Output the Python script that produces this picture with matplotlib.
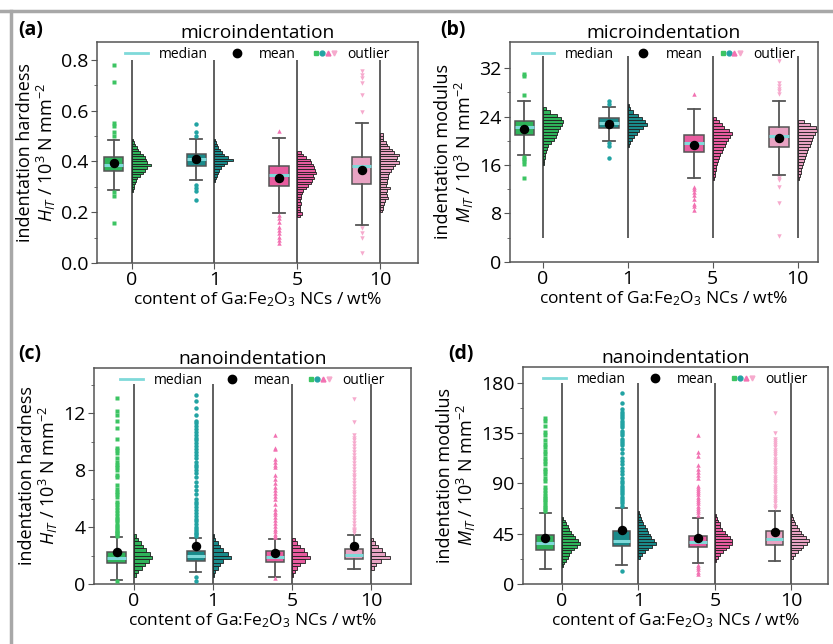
import numpy as np
import matplotlib.pyplot as plt
from matplotlib.lines import Line2D
from matplotlib.legend_handler import HandlerTuple

plt.rcParams['font.family'] = ['Open Sans', 'DejaVu Sans']
plt.rcParams['mathtext.fontset'] = 'custom'
plt.rcParams['mathtext.rm'] = 'Open Sans'
plt.rcParams['mathtext.it'] = 'Open Sans:italic'
plt.rcParams['mathtext.bf'] = 'Open Sans:bold'

groups = ['0', '1', '5', '10']
box_colors = ['#2fb35a', '#1a8a8a', '#e85c9f', '#e9a3c3']
out_colors = ['#3cc463', '#22a3a3', '#f272b2', '#f6aacd']
out_markers = ['s', 'o', '^', 'v']

# ---- (a) microindentation, hardness
a_q1 = [0.364, 0.383, 0.305, 0.311]
a_med = [0.386, 0.408, 0.348, 0.383]
a_q3 = [0.418, 0.430, 0.380, 0.419]
a_lo = [0.288, 0.327, 0.196, 0.150]
a_hi = [0.485, 0.490, 0.491, 0.553]
a_mean = [0.393, 0.410, 0.334, 0.366]
a_out = [[0.78, 0.711, 0.55, 0.54, 0.517, 0.50, 0.281, 0.264, 0.159],
         [0.548, 0.514, 0.498, 0.307, 0.297, 0.284, 0.248],
         [0.521, 0.189, 0.176, 0.163, 0.143, 0.130, 0.117, 0.104, 0.090, 0.077],
         [0.754, 0.741, 0.727, 0.708, 0.662, 0.596, 0.137, 0.117, 0.097, 0.038]]
a_hist_start = [0.28, 0.32, 0.18, 0.20]
a_bin = 0.01
a_counts = [[1, 2, 2, 3, 4, 5, 8, 11, 13, 15, 19, 15, 14, 13, 11, 8, 6, 5, 3, 2, 1],
            [1, 2, 3, 4, 5, 7, 10, 13, 19, 14, 10, 8, 6, 4, 3, 2, 1],
            [3, 5, 3, 3, 3, 4, 3, 4, 4, 5, 6, 9, 11, 14, 15, 17, 16, 19, 18, 17, 16, 14, 13, 9, 6, 4],
            [2, 3, 3, 4, 5, 8, 7, 6, 7, 10, 6, 7, 7, 8, 8, 9, 11, 13, 15, 19, 16, 17, 19, 14, 12, 9,
             7, 6, 3, 3, 3]]
a_span = (0.0, 0.8)

# ---- (b) microindentation, modulus
b_q1 = [20.9, 22.1, 18.1, 18.9]
b_med = [22.2, 23.0, 19.7, 20.8]
b_q3 = [23.3, 23.7, 20.96, 22.2]
b_lo = [17.7, 20.0, 13.8, 14.4]
b_hi = [26.5, 25.6, 25.2, 26.5]
b_mean = [21.9, 22.8, 19.3, 20.5]
b_out = [[31.0, 30.7, 27.6, 17.4, 17.0, 16.6, 16.2, 13.9],
         [26.5, 26.1, 19.6, 19.1, 17.1],
         [27.8, 12.4, 12.0, 11.6, 11.0, 10.4, 9.6, 9.2, 8.6],
         [33.2, 29.5, 29.0, 28.6, 28.2, 27.7, 13.8, 13.5, 12.4, 9.7, 4.3]]
b_hist_start = [16.0, 19.0, 13.5, 13.5]
b_bin = 0.5
b_counts = [[1, 1, 2, 2, 3, 4, 5, 8, 11, 13, 14, 15, 17, 19, 20, 18, 14, 7, 3],
            [1, 2, 4, 6, 9, 11, 15, 19, 17, 14, 10, 5, 2, 1],
            [1, 2, 2, 3, 3, 4, 5, 6, 7, 9, 11, 13, 14, 16, 18, 20, 17, 12, 9, 6, 3],
            [1, 2, 3, 3, 4, 5, 6, 7, 8, 9, 10, 12, 13, 14, 15, 17, 19, 18, 12, 6]]
b_span = (4.0, 34.0)

# ---- (c) nanoindentation, hardness
c_q1 = [1.45, 1.63, 1.56, 1.73]
c_med = [1.80, 1.96, 1.87, 2.03]
c_q3 = [2.26, 2.33, 2.33, 2.45]
c_lo = [0.28, 0.86, 0.51, 1.03]
c_hi = [3.31, 3.27, 3.20, 3.48]
c_mean = [2.22, 2.68, 2.15, 2.68]
c_out = [[13.1, 12.2, 11.9, 11.5, 11.0, 10.2, 9.6, 9.4, 9.2, 8.9, 8.6, 8.4, 8.2, 8.0, 7.7, 7.5,
          7.0, 6.7, 6.5, 6.3, 6.1, 5.8, 5.6, 5.4, 5.2, 5.0, 4.8, 4.6, 4.5, 4.3, 4.1, 4.0, 3.8,
          3.7, 3.6, 3.5, 3.4, 0.2],
         [13.3, 12.9, 12.4, 11.9, 11.5, 11.3, 11.1, 10.9, 10.7, 10.5, 10.3, 10.1, 9.9, 9.7, 9.5,
          9.3, 9.1, 8.9, 8.6, 8.4, 8.2, 8.0, 7.8, 7.5, 7.2, 6.9, 6.6, 6.3, 6.0, 5.8, 5.6, 5.4,
          5.2, 5.0, 4.8, 4.6, 4.4, 4.2, 4.0, 3.9, 3.7, 3.6, 3.5, 3.4, 0.5, 0.2],
         [10.5, 9.6, 9.5, 8.8, 8.6, 8.4, 8.2, 7.7, 7.4, 7.1, 6.8, 6.6, 6.4, 6.2, 6.0, 5.6, 5.3,
          5.1, 4.9, 4.7, 4.5, 4.3, 4.1, 3.9, 3.7, 3.5, 3.4, 3.3, 0.45],
         [13.0, 11.4, 10.5, 10.3, 10.1, 9.9, 9.7, 9.5, 9.3, 9.1, 8.9, 8.7, 8.5, 8.3, 8.1, 7.9,
          7.7, 7.5, 7.3, 7.1, 6.9, 6.7, 6.5, 6.3, 6.1, 5.9, 5.7, 5.5, 5.3, 5.1, 4.9, 4.7, 4.5,
          4.3, 4.1, 3.9, 3.8, 3.7, 3.6]]
c_hist_start = [0.5, 0.5, 0.5, 1.0]
c_bin = 0.25
c_counts = [[2, 4, 7, 10, 13, 16, 14, 11, 8, 6, 4, 2],
            [1, 2, 4, 6, 9, 16, 13, 9, 6, 4, 2, 1],
            [1, 2, 4, 7, 11, 16, 13, 10, 7, 4, 2],
            [2, 4, 8, 16, 12, 9, 6, 3, 1]]
c_span = (0.0, 14.1)

# ---- (d) nanoindentation, modulus
d_q1 = [30.4, 34.0, 33.4, 34.9]
d_med = [36.4, 38.8, 37.9, 40.0]
d_q3 = [43.9, 47.7, 43.3, 47.7]
d_lo = [13.1, 17.0, 19.1, 20.9]
d_hi = [63.3, 67.8, 58.8, 65.6]
d_mean = [41.5, 48.1, 40.9, 46.6]
d_out = [[148, 146, 141, 136, 133, 129, 125, 122, 119, 116, 113, 110, 107, 103, 101, 98, 95,
          92, 87, 84, 81, 79, 77, 75, 73, 71, 69, 67, 65],
         [171, 162, 156, 154, 152, 150, 148, 146, 144, 142, 140, 137, 135, 133, 130, 128, 126,
          124, 121, 117, 113, 110, 107, 104, 101, 98, 95, 92, 90, 88, 86, 84, 82, 80, 78, 76,
          74, 72, 70, 12],
         [133, 118, 114, 106, 103, 100, 97, 95, 88, 86, 84, 82, 80, 78, 76, 74, 72, 70, 68, 66,
          64, 62, 17, 15, 13, 11, 8.5],
         [153, 135, 130, 128, 126, 124, 122, 120, 118, 116, 114, 112, 110, 108, 106, 104, 102,
          100, 98, 96, 94, 92, 90, 88, 86, 84, 82, 80, 78, 76, 74, 72, 70, 68]]
d_hist_start = [15.0, 22.5, 20.0, 22.5]
d_bin = 2.5
d_counts = [[1, 2, 4, 6, 8, 10, 13, 16, 19, 17, 14, 12, 10, 8, 6, 4, 3, 1],
            [2, 4, 7, 10, 14, 18, 16, 13, 12, 10, 9, 7, 5, 4, 3, 2, 1],
            [1, 3, 6, 9, 12, 15, 18, 19, 16, 13, 11, 8, 6, 5, 3, 2, 1],
            [2, 4, 7, 10, 13, 17, 19, 16, 13, 10, 8, 6, 4, 3, 2, 1]]
d_span = (0.0, 180.0)

xlabel = 'content of Ga:Fe$_2$O$_3$ NCs / wt%'
box_off = -0.22
box_w = 0.23
hist_w = 0.23


def panel(ax, q1, med, q3, lo, hi, mean, outl, hstart, hbin, counts, span):
    pos = np.arange(len(groups))
    for i in range(len(groups)):
        st = dict(q1=q1[i], med=med[i], q3=q3[i], whislo=lo[i], whishi=hi[i],
                  mean=mean[i], fliers=outl[i])
        ax.bxp([st], positions=[pos[i] + box_off], widths=box_w, capwidths=0.14,
               patch_artist=True, showmeans=True, manage_ticks=False,
               boxprops=dict(facecolor=box_colors[i], edgecolor='#555555', lw=1.1),
               whiskerprops=dict(color='#555555', lw=1.3),
               capprops=dict(color='#555555', lw=1.3),
               medianprops=dict(color='#7fd9d9', lw=2.2),
               meanprops=dict(marker='o', markerfacecolor='black', markeredgecolor='black',
                              markersize=5.8),
               flierprops=dict(marker=out_markers[i], markerfacecolor=out_colors[i],
                               markeredgecolor='none', markersize=3.2),
               zorder=3)
        cnt = np.array(counts[i], dtype=float)
        centers = hstart[i] + hbin * (np.arange(len(cnt)) + 0.5)
        ax.barh(centers, cnt / cnt.max() * hist_w, height=hbin, left=pos[i],
                color=box_colors[i], edgecolor='#1e1e1e', lw=0.6, zorder=2)
        ax.vlines(pos[i], span[0], span[1], color='#444444', lw=1.2, zorder=1)
    ax.set_xticks(pos)
    ax.set_xticklabels(groups)
    ax.set_xlabel(xlabel, fontsize=12.5, labelpad=1)
    ax.tick_params(labelsize=14, direction='out', length=4, color='#555555', pad=2)
    ax.tick_params(which='minor', length=2.5, color='#555555')
    for s in ax.spines.values():
        s.set_color('#555555')
        s.set_linewidth(1.1)
    h1 = Line2D([], [], color='#7fd9d9', lw=2)
    h2 = Line2D([], [], marker='o', color='black', ls='none', markersize=6)
    h3 = tuple(Line2D([], [], marker=m, color=c, ls='none', markersize=3.5)
               for m, c in zip(out_markers, out_colors))
    ax.legend([h1, h2, h3], ['median', 'mean', 'outlier'], ncol=3, loc='upper center',
              bbox_to_anchor=(0.5, 1.035), frameon=False, fontsize=10,
              handler_map={tuple: HandlerTuple(ndivide=None, pad=0.1)},
              columnspacing=1.3, handlelength=1.6, handletextpad=0.8)


fig = plt.figure(figsize=(8.33, 6.44), dpi=100)
ax_a = fig.add_axes([0.1164, 0.5916, 0.3854, 0.3432])
ax_b = fig.add_axes([0.6122, 0.5932, 0.3697, 0.3416])
ax_c = fig.add_axes([0.1128, 0.0932, 0.3806, 0.3354])
ax_d = fig.add_axes([0.6279, 0.0932, 0.3661, 0.3370])

panel(ax_a, a_q1, a_med, a_q3, a_lo, a_hi, a_mean, a_out, a_hist_start, a_bin, a_counts, a_span)
panel(ax_b, b_q1, b_med, b_q3, b_lo, b_hi, b_mean, b_out, b_hist_start, b_bin, b_counts, b_span)
panel(ax_c, c_q1, c_med, c_q3, c_lo, c_hi, c_mean, c_out, c_hist_start, c_bin, c_counts, c_span)
panel(ax_d, d_q1, d_med, d_q3, d_lo, d_hi, d_mean, d_out, d_hist_start, d_bin, d_counts, d_span)

ax_a.set_xlim(-0.42, 3.46)
ax_a.set_ylim(0, 0.87)
ax_a.set_yticks([0.0, 0.2, 0.4, 0.6, 0.8])
ax_a.set_yticks(np.arange(0.1, 0.8, 0.2), minor=True)
ax_a.set_yticklabels(['0.0', '0.2', '0.4', '0.6', '0.8'])

ax_b.set_xlim(-0.39, 3.24)
ax_b.set_ylim(0, 36.3)
ax_b.set_yticks([0, 8, 16, 24, 32])
ax_b.set_yticks([4, 12, 20, 28], minor=True)

ax_c.set_xlim(-0.505, 3.5)
ax_c.set_ylim(0, 15.2)
ax_c.set_yticks([0, 4, 8, 12])
ax_c.set_yticks([2, 6, 10, 14], minor=True)

ax_d.set_xlim(-0.51, 3.48)
ax_d.set_ylim(0, 194)
ax_d.set_yticks([0, 45, 90, 135, 180])
ax_d.set_yticks([22.5, 67.5, 112.5, 157.5], minor=True)

for ax in (ax_a, ax_b, ax_c, ax_d):
    ax.tick_params(axis='x', which='minor', bottom=False)

lab_h = 'indentation hardness\n$\\mathit{H}_{\\mathit{IT}}$ / 10$^3$ N mm$^{-2}$'
lab_m = 'indentation modulus\n$\\mathit{M}_{\\mathit{IT}}$ / 10$^3$ N mm$^{-2}$'
ax_a.set_ylabel(lab_h, fontsize=13, linespacing=1.05, labelpad=2)
ax_b.set_ylabel(lab_m, fontsize=13, linespacing=1.05, labelpad=2)
ax_c.set_ylabel(lab_h, fontsize=13, linespacing=1.05, labelpad=2)
ax_d.set_ylabel(lab_m, fontsize=13, linespacing=1.05, labelpad=2)

ax_a.set_title('microindentation', fontsize=13.8, pad=3)
ax_b.set_title('microindentation', fontsize=13.8, pad=3)
ax_c.set_title('nanoindentation', fontsize=13.8, pad=3)
ax_d.set_title('nanoindentation', fontsize=13.8, pad=3)

fig.text(0.022, 0.953, '(a)', fontsize=14, fontweight='bold', va='center')
fig.text(0.528, 0.953, '(b)', fontsize=14, fontweight='bold', va='center')
fig.text(0.022, 0.45, '(c)', fontsize=14, fontweight='bold', va='center')
fig.text(0.538, 0.45, '(d)', fontsize=14, fontweight='bold', va='center')

# grey frame of the original figure
fig.add_artist(Line2D([0, 1], [1 - 11 / 644] * 2, transform=fig.transFigure,
                      color='#a8a8a8', lw=2.5))
fig.add_artist(Line2D([11 / 833] * 2, [0, 1 - 11 / 644], transform=fig.transFigure,
                      color='#a8a8a8', lw=2.5))

fig.savefig('out.png', dpi=100)
